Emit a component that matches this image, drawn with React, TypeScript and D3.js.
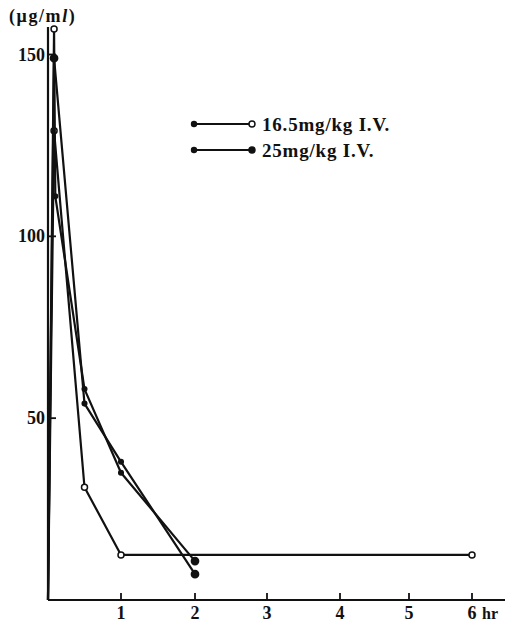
import React from "react";
import * as d3 from "d3";

// Data (time in hours, concentration in µg/ml)
const xTickValues = [1, 2, 3, 4, 5, 6];
const yTickValues = [50, 100, 150];
const xBreaks = [0, 1, 2, 3, 4, 5, 6];

const curveA_t = [0, 0.083, 0.5, 1, 6];
const curveA_v = [0, 129, 31, 12.4, 12.4];
const curveA_m = ["", "o", "o", "o", "o"];

const curveB_t = [0, 0.083, 0.1, 0.5, 1, 2];
const curveB_v = [0, 157, 111, 58, 35, 10.7];
const curveB_m = ["", "o", "s", "s", "s", "f"];

const curveC_t = [0, 0.083, 0.5, 1, 2];
const curveC_v = [0, 149, 54, 38, 7.1];
const curveC_m = ["", "f", "s", "s", "f"];

const legendLabels = ["16.5mg/kg I.V.", "25mg/kg I.V."];
const legendEnd = ["o", "f"];

const FONT = "'Liberation Serif', 'DejaVu Serif', serif";

export default function App() {
  const x = d3
    .scaleLinear()
    .domain(xBreaks)
    .range([48, 121, 195, 267, 340, 409, 472]);
  const y = d3.scaleLinear().domain([0, 150]).range([600, 54.5]);

  const line = d3
    .line<[number, number]>()
    .x((d) => x(d[0]))
    .y((d) => y(d[1]));

  const curves = [
    { t: curveA_t, v: curveA_v, m: curveA_m },
    { t: curveB_t, v: curveB_v, m: curveB_m },
    { t: curveC_t, v: curveC_v, m: curveC_m },
  ];

  const ink = "#111";

  return (
    <svg
      width={512}
      height={623}
      style={{ position: "absolute", left: 0, top: 0, background: "#fff" }}
      fontFamily={FONT}
    >
      <rect width={512} height={623} fill="#fff" />
      {/* axes */}
      <line x1={48} y1={600} x2={48} y2={27} stroke={ink} strokeWidth={2.2} />
      <line x1={48} y1={600} x2={505} y2={600} stroke={ink} strokeWidth={2.2} />
      {yTickValues.map((v) => (
        <g key={"y" + v}>
          <line x1={48} x2={56} y1={y(v)} y2={y(v)} stroke={ink} strokeWidth={1.8} />
          <text
            x={45}
            y={y(v) + 6}
            textAnchor="end"
            fontSize={18}
            fontWeight="bold"
            fill={ink}
          >
            {v}
          </text>
        </g>
      ))}
      {xTickValues.map((v) => (
        <g key={"x" + v}>
          <line x1={x(v)} x2={x(v)} y1={600} y2={593} stroke={ink} strokeWidth={1.8} />
          <text
            x={x(v)}
            y={619}
            textAnchor="middle"
            fontSize={18}
            fontWeight="bold"
            fill={ink}
          >
            {v}
          </text>
        </g>
      ))}
      <text x={482} y={619} fontSize={16} fontWeight="bold" fill={ink}>
        hr
      </text>
      <text x={9} y={22} fontSize={18} fontWeight="bold" letterSpacing={1.6} fill={ink}>
        (μg/m<tspan fontStyle="italic">l</tspan>)
      </text>

      {/* curves */}
      {curves.map((c, i) => {
        const pts = c.t.map((t, j) => [t, c.v[j]] as [number, number]);
        return (
          <g key={"c" + i}>
            <path
              d={line(pts) || ""}
              fill="none"
              stroke={ink}
              strokeWidth={2.2}
              strokeLinejoin="round"
            />
            {pts.map((p, j) =>
              c.m[j] ? (
                <circle
                  key={j}
                  cx={x(p[0])}
                  cy={y(p[1])}
                  r={c.m[j] === "o" ? 3 : c.m[j] === "s" ? 2.3 : 3.6}
                  fill={c.m[j] === "o" ? "#fff" : ink}
                  stroke={ink}
                  strokeWidth={1.5}
                />
              ) : null
            )}
          </g>
        );
      })}

      {/* legend */}
      {legendLabels.map((lab, i) => {
        const ly = 124 + i * 26;
        return (
          <g key={"l" + i}>
            <line x1={194} x2={252} y1={ly} y2={ly} stroke={ink} strokeWidth={2.2} />
            <circle cx={194} cy={ly} r={3.2} fill={ink} />
            <circle
              cx={252}
              cy={ly}
              r={3}
              fill={legendEnd[i] === "o" ? "#fff" : ink}
              stroke={ink}
              strokeWidth={1.5}
            />
            <text
              x={262}
              y={ly + 7}
              fontSize={19}
              fontWeight="bold"
              letterSpacing={0.8}
              fill={ink}
            >
              {lab}
            </text>
          </g>
        );
      })}
    </svg>
  );
}
